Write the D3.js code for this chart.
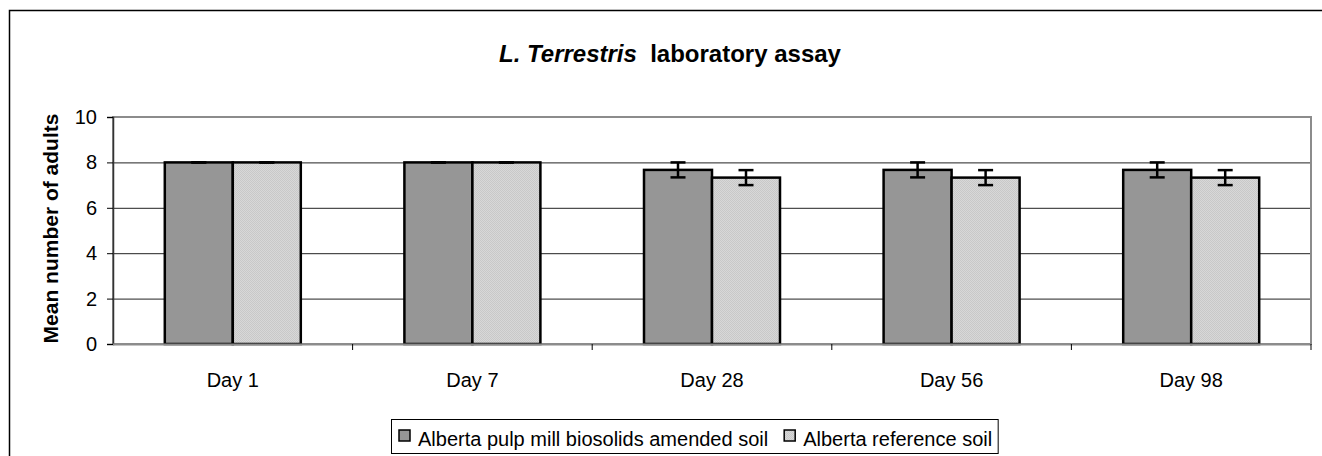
<!DOCTYPE html>
<html>
<head>
<meta charset="utf-8">
<script src="https://cdn.jsdelivr.net/npm/d3@7"></script>
<style>
  body { margin: 0; background: #fff; }
  svg { display: block; font-family: Arial, "Liberation Sans", sans-serif; }
</style>
</head>
<body>
<svg id="chart" width="1322" height="456"></svg>
<script>
// data
let days = ["Day 1", "Day 7", "Day 28", "Day 56", "Day 98"];
let seriesNames = ["Alberta pulp mill biosolids amended soil", "Alberta reference soil"];
let amended = [8, 8, 7.67, 7.67, 7.67];
let amendedErr = [0, 0, 0.33, 0.33, 0.33];
let reference = [8, 8, 7.33, 7.33, 7.33];
let referenceErr = [0, 0, 0.33, 0.33, 0.33];
let yTicks = [0, 2, 4, 6, 8, 10];

let svg = d3.select("#chart");

// pattern for the light series
let defs = svg.append("defs");
let pat = defs.append("pattern")
    .attr("id", "dots")
    .attr("width", 2).attr("height", 2)
    .attr("patternUnits", "userSpaceOnUse");
pat.append("rect").attr("width", 2).attr("height", 2).attr("fill", "#d8d8d8");
pat.append("rect").attr("width", 1).attr("height", 1).attr("fill", "#c8c8c8");
pat.append("rect").attr("x", 1).attr("y", 1).attr("width", 1).attr("height", 1).attr("fill", "#c8c8c8");

// outer frame
svg.append("rect")
    .attr("x", 9.5).attr("y", 10.5)
    .attr("width", 1322).attr("height", 460)
    .attr("fill", "none").attr("stroke", "#000").attr("stroke-width", 1.5);

let plot = {left: 113, right: 1311, top: 117, bottom: 344};

let x = d3.scaleBand().domain(days).range([plot.left, plot.right]);
let y = d3.scaleLinear().domain([0, 10]).range([plot.bottom, plot.top]);
let barW = 68;

// gridlines
svg.append("g").selectAll("line").data(yTicks.filter(d => d > 0))
    .join("line")
    .attr("x1", plot.left).attr("x2", plot.right)
    .attr("y1", d => y(d) + 0.5).attr("y2", d => y(d) + 0.5)
    .attr("stroke", "#222").attr("stroke-width", 1);

// plot border (gray)
svg.append("rect")
    .attr("x", plot.left).attr("y", plot.top)
    .attr("width", plot.right - plot.left).attr("height", plot.bottom - plot.top)
    .attr("fill", "none").attr("stroke", "#8c8c8c").attr("stroke-width", 2);

// bars
let series = [
    {vals: amended, err: amendedErr, fill: "#969696", off: -barW},
    {vals: reference, err: referenceErr, fill: "url(#dots)", off: 0}
];

series.forEach(function(s){
    let cx = d => x(d) + x.bandwidth() / 2;
    svg.append("g").selectAll("rect").data(days)
        .join("rect")
        .attr("x", d => cx(d) + s.off)
        .attr("y", (d, i) => y(s.vals[i]))
        .attr("width", barW)
        .attr("height", (d, i) => y(0) - y(s.vals[i]))
        .attr("fill", s.fill)
        .attr("stroke", "#000").attr("stroke-width", 2.5);

    let eg = svg.append("g").attr("stroke", "#000").attr("stroke-width", 2.5);
    days.forEach(function(d, i){
        let ex = cx(d) + s.off + barW / 2;
        let hi = y(s.vals[i] + s.err[i]), lo = y(s.vals[i] - s.err[i]);
        eg.append("line").attr("x1", ex).attr("x2", ex).attr("y1", hi).attr("y2", lo);
        eg.append("line").attr("x1", ex - 7.5).attr("x2", ex + 7.5).attr("y1", hi).attr("y2", hi);
        eg.append("line").attr("x1", ex - 7.5).attr("x2", ex + 7.5).attr("y1", lo).attr("y2", lo);
    });
});

// y axis
let yAxis = svg.append("g")
    .attr("transform", "translate(" + plot.left + ",0)")
    .call(d3.axisLeft(y).tickValues(yTicks).tickSize(6).tickPadding(10));
yAxis.select(".domain").attr("stroke", "#333").attr("stroke-width", 1.5);
yAxis.selectAll(".tick line").attr("stroke", "#000");
yAxis.selectAll("text").attr("font-size", 20).attr("fill", "#000").attr("font-family", "Arial, 'Liberation Sans', sans-serif");

// x axis
let xAxis = svg.append("g")
    .attr("transform", "translate(0," + plot.bottom + ")");
xAxis.append("line")
    .attr("x1", plot.left).attr("x2", plot.right)
    .attr("y1", 0.5).attr("y2", 0.5)
    .attr("stroke", "#8c8c8c").attr("stroke-width", 2);
xAxis.selectAll("line.tk").data(days.slice(1).concat(["end"]))
    .join("line").attr("class", "tk")
    .attr("x1", d => d == "end" ? plot.right : x(d))
    .attr("x2", d => d == "end" ? plot.right : x(d))
    .attr("y1", 0).attr("y2", 6)
    .attr("stroke", "#000");
xAxis.selectAll("text").data(days)
    .join("text")
    .attr("x", d => x(d) + x.bandwidth() / 2)
    .attr("y", 43)
    .attr("text-anchor", "middle")
    .attr("font-size", 20)
    .text(d => d);

// y axis title
svg.append("text")
    .attr("transform", "translate(58," + ((plot.top + plot.bottom) / 2 - 2) + ") rotate(-90)")
    .attr("text-anchor", "middle")
    .attr("font-size", 21).attr("font-weight", "bold")
    .text("Mean number of adults");

// title
let title = svg.append("text")
    .attr("x", 670).attr("y", 62)
    .attr("text-anchor", "middle")
    .attr("font-size", 24).attr("font-weight", "bold");
title.append("tspan").attr("font-style", "italic").text("L. Terrestris");
title.append("tspan").text("\u00a0 laboratory assay");

// legend
let lg = svg.append("g");
let lgBox = lg.append("rect")
    .attr("x", 391.5).attr("y", 419.5).attr("height", 34)
    .attr("fill", "#fff").attr("stroke", "#000").attr("stroke-width", 1);
let lx = 399;
seriesNames.forEach(function(name, i){
    lg.append("rect")
        .attr("x", lx).attr("y", 430).attr("width", 11).attr("height", 11)
        .attr("fill", series[i].fill).attr("stroke", "#000").attr("stroke-width", 1.5);
    let t = lg.append("text")
        .attr("x", lx + 19).attr("y", 446)
        .attr("font-size", 20)
        .text(name);
    lx += 19 + t.node().getComputedTextLength() + 16;
});
lgBox.attr("width", lx - 391.5 - 10);
</script>
</body>
</html>
